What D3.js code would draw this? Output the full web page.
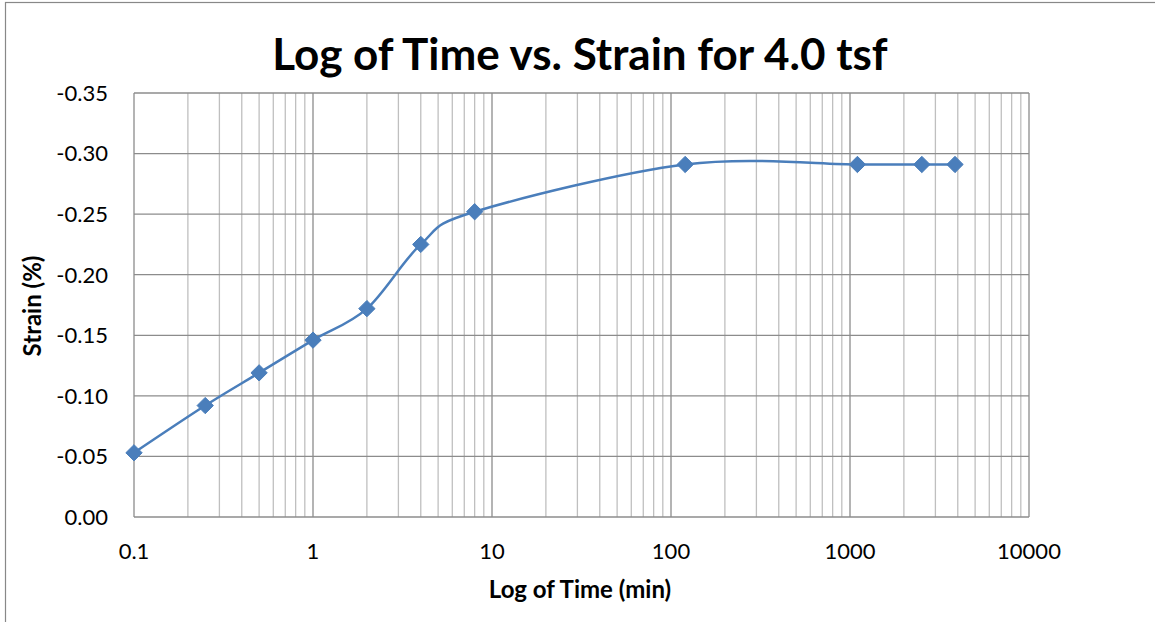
<!DOCTYPE html>
<html>
<head>
<meta charset="utf-8">
<style>
  body { margin: 0; background: #fff; }
  text { font-family: Lato, "Open Sans", sans-serif; fill: #000; }
</style>
</head>
<body>
<script src="https://cdn.jsdelivr.net/npm/d3@7/dist/d3.min.js"></script>
<script>
  const width = 1155
  const height = 622

  // time in minutes, strain in percent
  const times = [0.1, 0.25, 0.5, 1, 2, 4, 8, 120, 1100, 2520, 3860]
  const strains = [-0.053, -0.092, -0.119, -0.146, -0.172, -0.225, -0.252, -0.291, -0.291, -0.291, -0.291]
  const yTicks = [0, -0.05, -0.10, -0.15, -0.20, -0.25, -0.30, -0.35]
  const xTicks = [0.1, 1, 10, 100, 1000, 10000]

  const margin = { top: 93, right: 126, bottom: 105, left: 134 }

  const svg = d3.select("body")
    .append("svg")
    .attr("width", width)
    .attr("height", height)

  // outer chart border (only left and top show in the frame)
  svg.append("rect")
    .attr("x", 5.5)
    .attr("y", 2.5)
    .attr("width", width + 10)
    .attr("height", height + 10)
    .attr("fill", "none")
    .attr("stroke", "#888")
    .attr("stroke-width", 1.2)

  const x = d3.scaleLog()
    .domain([0.1, 10000])
    .range([margin.left, width - margin.right])

  const y = d3.scaleLinear()
    .domain([0, -0.35])
    .range([height - margin.bottom, margin.top])

  const grid = svg.append("g")

  // minor vertical lines for every 2..9 inside a decade
  const minor = []
  for (let e = -1; e < 4; e++) {
    for (let k = 2; k <= 9; k++) minor.push(k * Math.pow(10, e))
  }

  grid.selectAll("line.minor")
    .data(minor)
    .enter()
    .append("line")
    .attr("x1", d => x(d))
    .attr("x2", d => x(d))
    .attr("y1", y(0))
    .attr("y2", y(-0.35))
    .attr("stroke", "#bfbfbf")
    .attr("stroke-width", 1.3)

  grid.selectAll("line.hgrid")
    .data(yTicks)
    .enter()
    .append("line")
    .attr("x1", x(0.1))
    .attr("x2", x(10000))
    .attr("y1", d => y(d))
    .attr("y2", d => y(d))
    .attr("stroke", "#8c8c8c")
    .attr("stroke-width", 1.3)

  grid.selectAll("line.major")
    .data(xTicks)
    .enter()
    .append("line")
    .attr("x1", d => x(d))
    .attr("x2", d => x(d))
    .attr("y1", y(0))
    .attr("y2", y(-0.35))
    .attr("stroke", "#8c8c8c")
    .attr("stroke-width", 1.3)

  // tick labels (plain hyphen minus like the original)
  svg.selectAll("text.ytick")
    .data(yTicks)
    .enter()
    .append("text")
    .attr("x", margin.left - 26)
    .attr("y", d => y(d))
    .attr("dy", "0.36em")
    .attr("text-anchor", "end")
    .attr("font-size", 22)
    .text(d => d3.format(".2f")(d).replace("\u2212", "-"))

  svg.selectAll("text.xtick")
    .data(xTicks)
    .enter()
    .append("text")
    .attr("x", d => x(d))
    .attr("y", y(0) + 42)
    .attr("text-anchor", "middle")
    .attr("font-size", 22)
    .text(d => String(d))

  // series
  const pts = times.map((t, i) => [t, strains[i]])

  const line = d3.line()
    .x(d => x(d[0]))
    .y(d => y(d[1]))
    .curve(d3.curveCardinal.tension(0))

  svg.append("path")
    .datum(pts)
    .attr("d", line)
    .attr("fill", "none")
    .attr("stroke", "#4a7ebb")
    .attr("stroke-width", 2.5)

  svg.selectAll("path.marker")
    .data(pts)
    .enter()
    .append("path")
    .attr("d", d3.symbol().type(d3.symbolDiamond2).size(170))
    .attr("transform", d => `translate(${x(d[0])},${y(d[1])})`)
    .attr("fill", "#4a7ebb")
    .attr("stroke", "#4a7ebb")

  // titles
  svg.append("text")
    .attr("x", 580)
    .attr("y", 70)
    .attr("text-anchor", "middle")
    .attr("font-size", 44)
    .attr("font-weight", "bold")
    .text("Log of Time vs. Strain for 4.0 tsf")

  svg.append("text")
    .attr("x", 580)
    .attr("y", 598)
    .attr("text-anchor", "middle")
    .attr("font-size", 24)
    .attr("font-weight", "bold")
    .text("Log of Time (min)")

  svg.append("text")
    .attr("transform", "translate(41,306) rotate(-90)")
    .attr("text-anchor", "middle")
    .attr("font-size", 24)
    .attr("font-weight", "bold")
    .text("Strain (%)")
</script>
</body>
</html>
